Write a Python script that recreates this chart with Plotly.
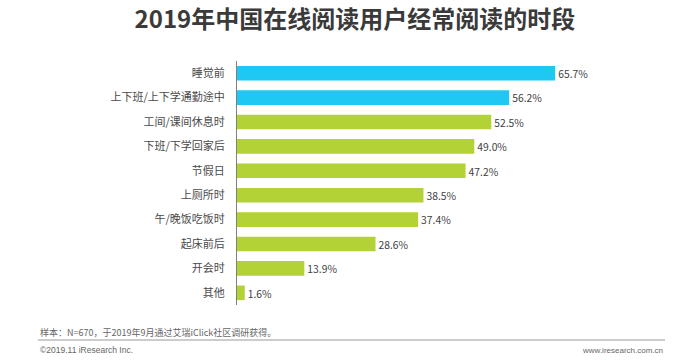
import plotly.graph_objects as go

categories = ["睡觉前", "上下班/上下学通勤途中", "工间/课间休息时", "下班/下学回家后", "节假日",
              "上厕所时", "午/晚饭吃饭时", "起床前后", "开会时", "其他"]
values = [65.7, 56.2, 52.5, 49.0, 47.2, 38.5, 37.4, 28.6, 13.9, 1.6]
colors = ["#1FC8F2", "#1FC8F2"] + ["#B2D235"] * 8

W, H = 700, 361
L, R, T, B = 237, 124, 61, 56
pw = W - L - R
ph = H - T - B

def px(x):
    return (x - L) / pw

def py(y):
    return 1 - (y - T) / ph

fig = go.Figure(go.Bar(
    x=values, y=categories, orientation="h",
    marker=dict(color=colors, line=dict(width=0)),
    text=values, texttemplate="%{x:.1f}%", textposition="outside",
    textfont=dict(size=12, color="#404040", family="Noto Sans CJK SC"),
    cliponaxis=False,
))

fig.update_layout(
    width=W, height=H,
    margin=dict(l=L, r=R, t=T, b=B),
    paper_bgcolor="white", plot_bgcolor="white",
    bargap=0.4,
    showlegend=False,
    font=dict(family="Noto Sans CJK SC", color="#404040"),
    title=dict(text="<b>2019年中国在线阅读用户经常阅读的时段</b>", x=0.507, xref="container",
               xanchor="center", y=1 - 20 / H, yref="container", yanchor="middle",
               font=dict(size=24, color="#3A3A3A", family="Noto Sans CJK SC")),
    xaxis=dict(range=[0, 70], visible=False, showgrid=False, zeroline=False),
    yaxis=dict(autorange="reversed", showline=True, linecolor="#808080", linewidth=1,
               ticks="", showgrid=False, ticklabelstandoff=9,
               tickfont=dict(size=11, color="#4A4A4A", family="Noto Sans CJK SC")),
)
fig.update_yaxes(categoryorder="array", categoryarray=categories)

fig.add_shape(type="line", xref="paper", yref="paper",
              x0=px(38), x1=px(665), y0=py(340), y1=py(340),
              line=dict(color="#999999", width=1))
fig.add_annotation(text="样本：N=670，于2019年9月通过艾瑞iClick社区调研获得。", xref="paper", yref="paper",
                   x=px(38), y=py(332), xanchor="left", yanchor="middle", showarrow=False,
                   font=dict(size=9, color="#666666", family="Noto Sans CJK SC"))
fig.add_annotation(text="©2019.11 iResearch Inc.", xref="paper", yref="paper",
                   x=px(38), y=py(350), xanchor="left", yanchor="middle", showarrow=False,
                   font=dict(size=8.5, color="#666666", family="Liberation Sans"))
fig.add_annotation(text="www.iresearch.com.cn", xref="paper", yref="paper",
                   x=px(665), y=py(350), xanchor="right", yanchor="middle", showarrow=False,
                   font=dict(size=8, color="#666666", family="Liberation Sans"))

fig.write_html("out.html", config={"displayModeBar": False},
               post_script="document.body.style.margin='0';document.body.style.overflow='hidden';")
